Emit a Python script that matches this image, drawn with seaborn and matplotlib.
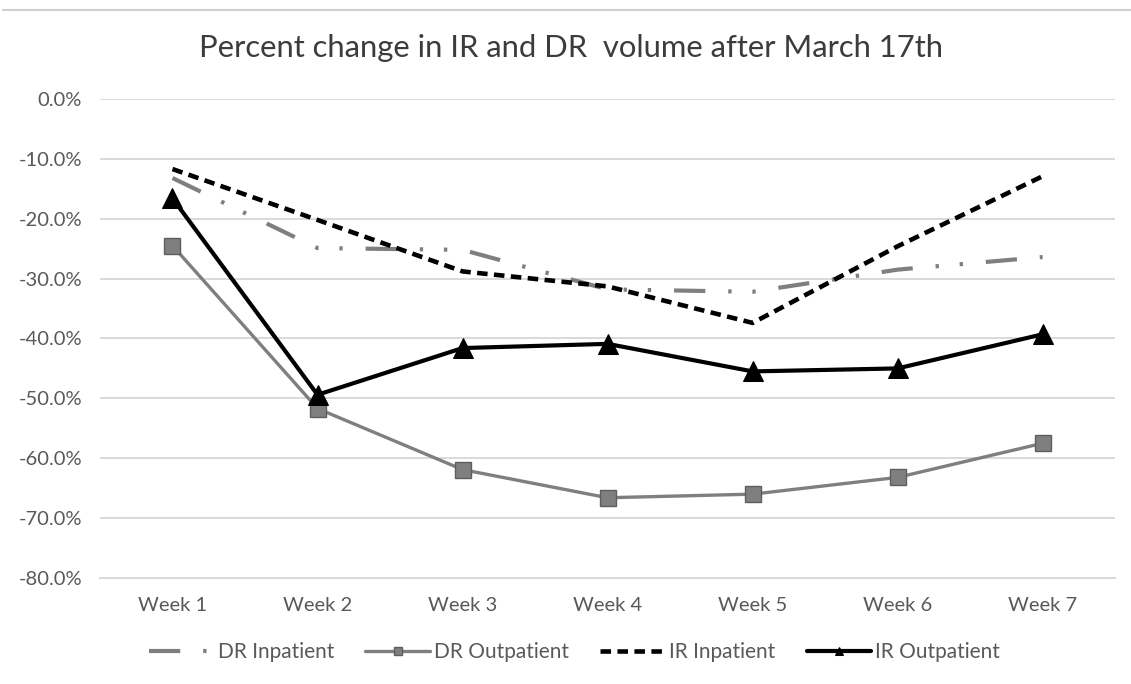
import matplotlib
matplotlib.use("Agg")
import matplotlib.pyplot as plt
from matplotlib.lines import Line2D
from matplotlib.ticker import PercentFormatter
import seaborn as sns
import pandas as pd

weeks = ["Week 1", "Week 2", "Week 3", "Week 4", "Week 5", "Week 6", "Week 7"]
dr_inpatient = [-13.2, -24.9, -25.2, -31.8, -32.2, -28.5, -26.4]
dr_outpatient = [-24.5, -51.7, -61.9, -66.6, -66.0, -63.2, -57.5]
ir_inpatient = [-11.7, -20.2, -28.8, -31.3, -37.4, -24.6, -12.9]
ir_outpatient = [-16.6, -49.4, -41.6, -40.9, -45.5, -45.0, -39.3]
series_names = ["DR Inpatient", "DR Outpatient", "IR Inpatient", "IR Outpatient"]
title = "Percent change in IR and DR  volume after March 17th"

sns.set_theme(style="white")
plt.rcParams["font.family"] = ["Lato", "DejaVu Sans"]
plt.rcParams["axes.unicode_minus"] = False

fig = plt.figure(figsize=(11.31, 6.84), dpi=100)
ax = fig.add_axes([0.0884, 0.155, 0.8976, 0.7003])

gray = "#7f7f7f"
styles = {
    "DR Inpatient": dict(color=gray, lw=3.0, linestyle=(0, (7.5, 5.5, 0.8, 5, 0.8, 5.5)), marker=None),
    "DR Outpatient": dict(color=gray, lw=2.4, linestyle="-", marker="s", markersize=12,
                          markerfacecolor="#7f7f7f", markeredgecolor="#5e5e5e", markeredgewidth=1),
    "IR Inpatient": dict(color="black", lw=3.3, linestyle=(0, (2.3, 1.4)), marker=None),
    "IR Outpatient": dict(color="black", lw=3.0, linestyle="-", marker="^", markersize=14,
                          markerfacecolor="black", markeredgecolor="black"),
}
values = [dr_inpatient, dr_outpatient, ir_inpatient, ir_outpatient]

for name, vals in zip(series_names, values):
    df = pd.DataFrame({"week": weeks, "pct": vals})
    st = dict(styles[name])
    lw = st.pop("lw")
    sns.lineplot(data=df, x="week", y="pct", ax=ax, sort=False, linewidth=lw,
                 label=name, legend=True, **st)

ax.set_xlim(-0.5, 6.5)
ax.set_ylim(-80, 0)
ax.set_yticks(range(-80, 1, 10))
ax.yaxis.set_major_formatter(PercentFormatter(decimals=1))
ax.grid(axis="y", color="#d9d9d9", linewidth=1.4)
ax.grid(axis="x", visible=False)
for s in ["top", "right", "left"]:
    ax.spines[s].set_visible(False)
ax.spines["bottom"].set_color("#d9d9d9")
ax.spines["bottom"].set_linewidth(1.4)
ax.set_xlabel("")
ax.set_ylabel("")
ax.tick_params(axis="both", length=0, labelsize=14.5, colors="#595959")
ax.tick_params(axis="y", pad=13)
ax.tick_params(axis="x", pad=14)

handles, labels = ax.get_legend_handles_labels()
ax.get_legend().remove()

fig.text(0.505, 1 - 48 / 684, title, fontsize=22.3, color="#3c3c3c",
         ha="center", va="center")

fig.legend(handles, labels, loc="center", bbox_to_anchor=(0.508, 1 - 652 / 684), ncol=4,
           frameon=False, fontsize=15, handlelength=3.1, columnspacing=1.5,
           handletextpad=0.2, markerscale=0.45, labelcolor="#595959")

fig.add_artist(Line2D([0.003, 1.0], [0.985, 0.985], transform=fig.transFigure,
                      color="#d0d0d0", lw=1.5))

fig.savefig("out.png", dpi=100, facecolor="white")
